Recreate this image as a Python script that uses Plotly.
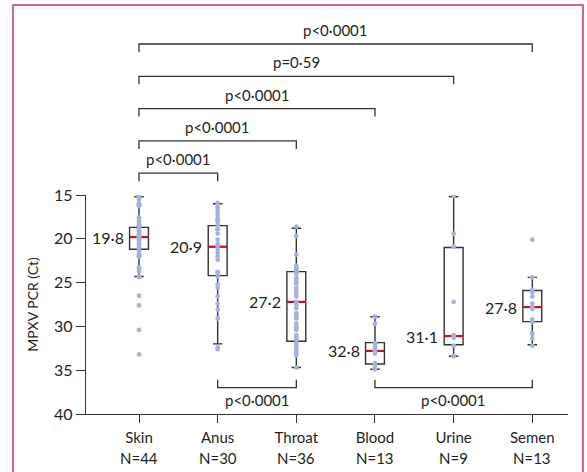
import plotly.graph_objects as go

# ---------------- data ----------------
categories = ["Skin", "Anus", "Throat", "Blood", "Urine", "Semen"]
sample_sizes = [44, 30, 36, 13, 9, 13]
medians = [19.8, 20.9, 27.2, 32.8, 31.1, 27.8]
q1 = [18.7, 18.5, 23.75, 31.85, 21.0, 25.9]
q3 = [21.2, 24.2, 31.7, 34.3, 32.1, 29.45]
whisker_low = [15.2, 16.0, 18.8, 28.9, 15.2, 24.4]
whisker_high = [24.3, 32.0, 34.7, 34.9, 33.4, 32.1]

skin_ct = [15.15, 15.15, 15.5, 16.0, 16.0, 16.2, 16.2, 17.6, 17.6, 18.0, 18.3,
           18.5, 18.5, 18.85, 19.1, 19.1, 19.3, 19.5, 19.5, 19.7, 19.8, 19.8,
           20.1, 20.1, 20.3, 20.6, 20.6, 20.9, 21.1, 21.1, 21.4, 21.8, 21.8,
           22.0, 22.0, 23.3, 23.3, 23.7, 24.35, 24.35, 26.5, 27.6, 30.4, 33.2]
anus_ct = [15.9, 16.4, 16.8, 17.2, 17.65, 17.95, 17.95, 18.4, 18.9, 18.9, 19.4,
           20.1, 20.6, 20.9, 21.2, 21.6, 22.0, 22.4, 23.8, 23.8, 24.0, 24.3,
           25.2, 25.6, 26.6, 27.4, 28.1, 29.1, 32.4, 32.6]
throat_ct = [18.6, 19.7, 21.8, 23.1, 23.3, 23.5, 23.7, 23.9, 24.0, 24.5, 24.8,
             25.1, 25.6, 26.0, 26.3, 26.6, 27.2, 27.5, 27.9, 28.5, 28.8, 29.1,
             29.7, 30.05, 30.2, 30.4, 31.0, 31.2, 31.4, 31.8, 32.05, 32.4,
             32.8, 33.0, 33.3, 34.7]
blood_ct = [28.9, 29.7, 31.9, 32.0, 32.4, 32.6, 32.8, 32.9, 33.1, 34.2, 34.4,
            34.8, 34.9]
urine_ct = [15.1, 19.4, 20.9, 27.2, 31.0, 31.1, 31.3, 32.2, 33.4]
semen_ct = [20.1, 24.4, 25.8, 26.1, 26.6, 27.4, 27.8, 28.0, 29.2, 29.5, 30.8,
            31.4, 32.2]
point_values = [skin_ct, anus_ct, throat_ct, blood_ct, urine_ct, semen_ct]

top_comparisons = [(0, 5, "p<0·0001"), (0, 4, "p=0·59"), (0, 3, "p<0·0001"),
                   (0, 2, "p<0·0001"), (0, 1, "p<0·0001")]
bottom_comparisons = [(1, 2, "p<0·0001"), (3, 5, "p<0·0001")]

y_ticks = [15, 20, 25, 30, 35, 40]

# ---------------- style ----------------
FONT = "Lato"
TXT = "#231f20"
LINE = "#333333"
POINT = "#a2b3de"
MEDIAN = "#c8102e"
BORDER = "#c4395d"
BOX_W = 0.24

fig = go.Figure()

fig.add_trace(go.Box(
    x=list(range(len(categories))), q1=q1, median=medians, q3=q3,
    lowerfence=whisker_low, upperfence=whisker_high,
    width=BOX_W, whiskerwidth=0.5, boxpoints=False,
    line=dict(color=LINE, width=1.4), fillcolor="rgba(0,0,0,0)",
    showlegend=False, hoverinfo="skip"))

mx, my = [], []
for i, m in enumerate(medians):
    mx += [i - BOX_W / 2, i + BOX_W / 2, None]
    my += [m, m, None]
fig.add_trace(go.Scatter(x=mx, y=my, mode="lines",
                         line=dict(color=MEDIAN, width=2.2),
                         showlegend=False, hoverinfo="skip"))

for i, vals in enumerate(point_values):
    fig.add_trace(go.Scatter(x=[i] * len(vals), y=vals, mode="markers",
                             marker=dict(size=4.8, color=POINT),
                             showlegend=False, hoverinfo="skip"))

# median labels
for i, m in enumerate(medians):
    fig.add_annotation(x=i - BOX_W / 2, y=m, xref="x", yref="y",
                       text=f"{m:.1f}".replace(".", "·"), showarrow=False,
                       xanchor="right", yanchor="middle", xshift=-4,
                       font=dict(family=FONT, size=16, color=TXT))

# layout geometry (pixels of plot area)
PLOT_TOP, PLOT_BOT = 195, 414


def py2paper(py):
    return (PLOT_TOP - py) / (PLOT_BOT - PLOT_TOP) + 1


shapes = []
for k, (a, b, txt) in enumerate(top_comparisons):
    yb = 44 + k * 32.3
    y_line = py2paper(yb)
    y_tick = py2paper(yb + 8)
    shapes.append(dict(type="path", xref="x", yref="paper",
                       path=f"M {a},{y_tick} L {a},{y_line} L {b},{y_line} L {b},{y_tick}",
                       line=dict(color=LINE, width=1.3)))
    fig.add_annotation(x=(a + b) / 2, y=py2paper(yb - 14), xref="x", yref="paper",
                       text=txt, showarrow=False, xanchor="center", yanchor="middle",
                       font=dict(family=FONT, size=15, color=TXT))

for a, b, txt in bottom_comparisons:
    shapes.append(dict(type="path", xref="x", yref="y",
                       path=f"M {a},36.1 L {a},37.0 L {b},37.0 L {b},36.1",
                       line=dict(color=LINE, width=1.3)))
    fig.add_annotation(x=(a + b) / 2, y=38.45, xref="x", yref="y",
                       text=txt, showarrow=False, xanchor="center", yanchor="middle",
                       font=dict(family=FONT, size=15, color=TXT))

# sample sizes under category labels
for i, n in enumerate(sample_sizes):
    fig.add_annotation(x=i, y=py2paper(458), xref="x", yref="paper",
                       text=f"N={n}", showarrow=False, xanchor="center",
                       yanchor="middle",
                       font=dict(family=FONT, size=15, color=TXT))

# outer border
shapes.append(dict(type="rect", xref="paper", yref="paper",
                   x0=(13 - 86) / 482, x1=(583 - 86) / 482,
                   y0=py2paper(490), y1=py2paper(5),
                   line=dict(color=BORDER, width=1.5), fillcolor="rgba(0,0,0,0)"))

fig.update_layout(
    width=587, height=472,
    margin=dict(l=86, r=19, t=195, b=58),
    paper_bgcolor="white", plot_bgcolor="white",
    font=dict(family=FONT, size=15, color=TXT),
    shapes=shapes,
    xaxis=dict(range=[-0.674, 5.454], tickvals=list(range(len(categories))),
               ticktext=categories, ticklabelstandoff=2,
               showline=True, linecolor=LINE, linewidth=1.3, ticks="outside",
               ticklen=8, tickcolor=LINE, tickwidth=1.3, showgrid=False,
               zeroline=False, tickfont=dict(family=FONT, size=15, color=TXT)),
    yaxis=dict(range=[40, 15], tickvals=y_ticks,
               showline=True, linecolor=LINE, linewidth=1.3, ticks="outside",
               ticklen=9, tickcolor=LINE, tickwidth=1.3, showgrid=False,
               zeroline=False, tickfont=dict(family=FONT, size=16, color=TXT),
               title=dict(text="MPXV PCR (Ct)", standoff=12,
                          font=dict(family=FONT, size=14, color=TXT))),
)

fig.write_html("out.html")
